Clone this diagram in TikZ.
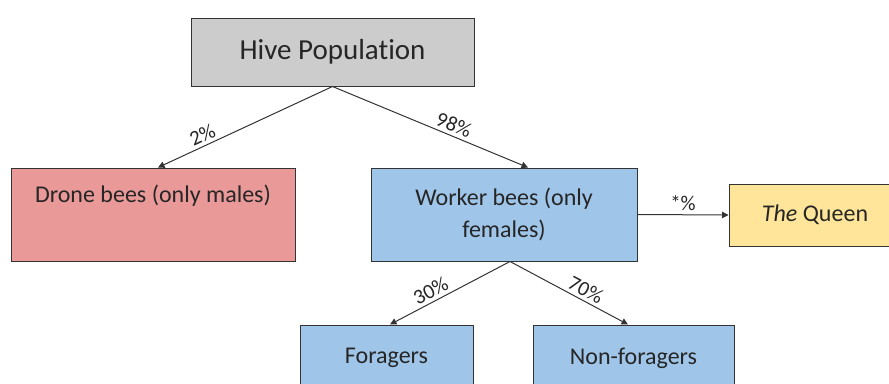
\documentclass[tikz,border=0pt]{standalone}
\usepackage{fontspec}
\setmainfont[Ligatures=NoCommon]{Carlito}
\usetikzlibrary{arrows.meta}
\definecolor{hivegray}{HTML}{CCCCCC}
\definecolor{dronered}{HTML}{EA9999}
\definecolor{workerblue}{HTML}{9FC5E8}
\definecolor{queenyellow}{HTML}{FFE599}
\definecolor{edge}{HTML}{333333}
\begin{document}
\begin{tikzpicture}[x=1pt,y=-1pt,
  box/.style={draw=edge, line width=1pt, rectangle, inner sep=0pt, align=center,
    font=\fontsize{24}{32}\selectfont, text=black!85},
  conn/.style={draw=edge, line width=1pt, -{Triangle[length=6.5pt,width=6.5pt]}},
  lbl/.style={font=\fontsize{21}{24}\selectfont, text=black!85, inner sep=3pt}
]
\useasboundingbox (0,0) rectangle (889,383);
\clip (0,0) rectangle (889,383);
\node[box, fill=hivegray, minimum width=283pt, minimum height=68pt,
  font=\fontsize{29}{34}\selectfont] (hive) at (332.5,52) {Hive Population};
\node[box, fill=dronered, minimum width=284pt, minimum height=93pt] (drone) at (153,214.5)
  {Drone bees (only males)\\ \strut};
\node[box, fill=workerblue, minimum width=266pt, minimum height=93pt] (worker) at (504,214.5)
  {Worker bees (only\\ females)};
\node[box, fill=queenyellow, minimum width=172pt, minimum height=62pt] (queen) at (815,215)
  {\textit{The} Queen};
\node[box, fill=workerblue, minimum width=173pt, minimum height=66pt] (forag) at (386.5,358)
  {Foragers};
\node[box, fill=workerblue, minimum width=201pt, minimum height=66pt] (nonf) at (633.5,358)
  {Non-foragers};
\draw[conn] (hive.south) -- ([xshift=5pt]drone.north)
  node[lbl, pos=0.72, above, sloped] {2\%};
\draw[conn] (hive.south) -- ([xshift=24pt]worker.north)
  node[lbl, pos=0.6, above, sloped] {98\%};
\draw[conn] (worker.east) -- (queen.west)
  node[lbl, midway, above, yshift=1pt] {*\%};
\draw[conn] ([xshift=6pt]worker.south) -- ([xshift=3.5pt]forag.north)
  node[lbl, pos=0.62, above, sloped] {30\%};
\draw[conn] ([xshift=6pt]worker.south) -- ([xshift=-5.5pt]nonf.north)
  node[lbl, pos=0.6, above, sloped] {70\%};
\end{tikzpicture}
\end{document}
